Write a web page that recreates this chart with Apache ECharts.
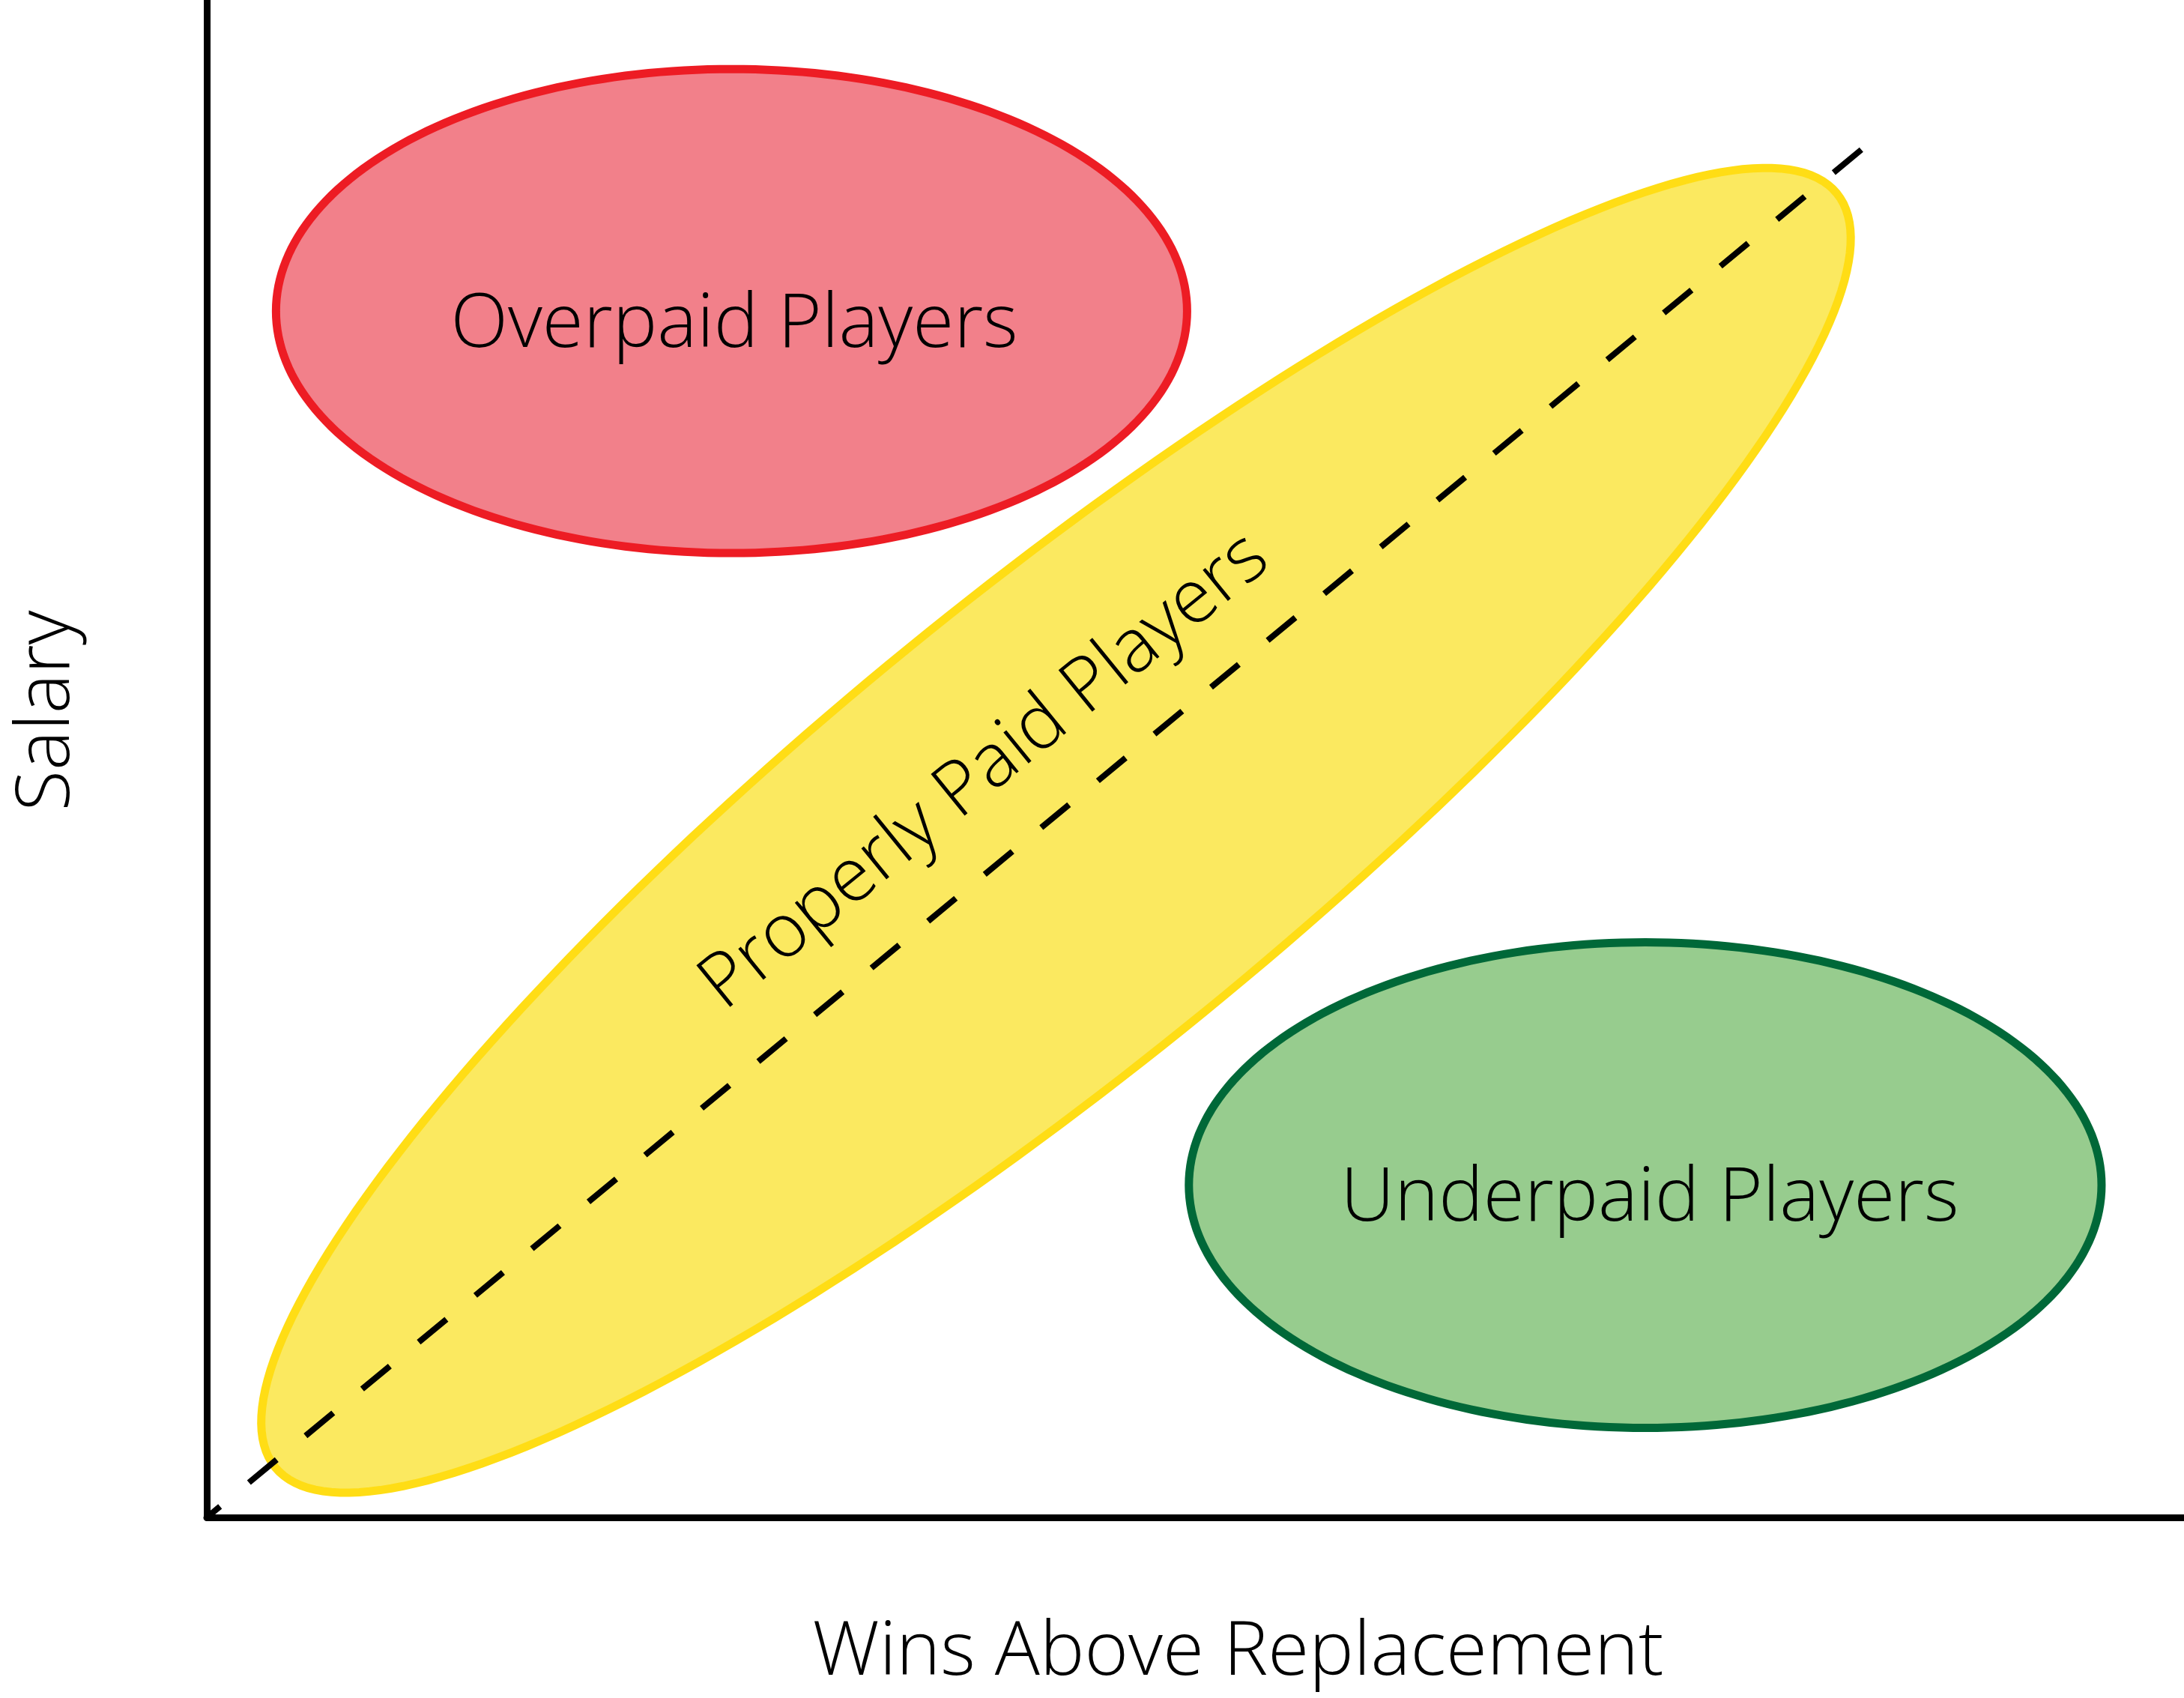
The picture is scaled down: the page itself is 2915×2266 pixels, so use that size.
<!DOCTYPE html>
<html>
<head>
<meta charset="utf-8">
<script src="https://cdn.jsdelivr.net/npm/echarts@6/dist/echarts.min.js"></script>
<style>
html,body{margin:0;padding:0;background:#fff;}
#chart{width:2915px;height:2266px;}
</style>
</head>
<body>
<div id="chart"></div>
<script>
// ---- data (conceptual chart, axis units 0..100) ----
const zones   = ['Overpaid Players', 'Properly Paid Players', 'Underpaid Players'];
// ellipse centres
const centerX = [26.54, 42.95, 72.75];
const centerY = [79.50, 45.28, 21.90];
// first semi-axis vector
const axisUX  = [23.04, 39.49, 23.08];
const axisUY  = [0.00, 41.98, 0.00];
// second semi-axis vector
const axisVX  = [0.00, 7.50, 0.00];
const axisVY  = [15.95, -11.97, 16.00];
// label anchor points
const labelX  = [26.68, 39.35, 72.98];
const labelY  = [78.55, 49.15, 20.98];
// break-even diagonal
const diagX   = [0, 83.9];
const diagY   = [0, 90.37];
const xTitle  = 'Wins Above Replacement';
const yTitle  = 'Salary';

// ---- styles ----
const zoneStyle = [
  {fill: '#F2808A', stroke: '#ED1C24', rot: 0},
  {fill: '#FBE960', stroke: '#FFDD15', rot: 0.684},
  {fill: '#97CC8E', stroke: '#006838', rot: 0}
];
const FONT = "'Open Sans', 'Noto Sans', sans-serif";
const FS = 100;

const zoneData = zones.map((n, i) => [centerX[i], centerY[i], axisUX[i], axisUY[i], axisVX[i], axisVY[i], labelX[i], labelY[i]]);
const diagData = diagX.map((x, i) => [x, diagY[i]]);

const chart = echarts.init(document.getElementById('chart'), null, {renderer: 'canvas'});
chart.setOption({
  backgroundColor: '#fff',
  animation: false,
  grid: {left: 276, right: 0, top: 0, bottom: 241, containLabel: false},
  xAxis: {
    type: 'value', min: 0, max: 100,
    axisLine: {show: true, lineStyle: {color: '#000', width: 9}},
    axisTick: {show: false}, axisLabel: {show: false}, splitLine: {show: false},
    name: xTitle, nameLocation: 'middle', nameGap: 132,
    nameTextStyle: {fontFamily: FONT, fontWeight: 300, fontSize: FS, color: '#000', padding: [0, 0, 0, 114]}
  },
  yAxis: {
    type: 'value', min: 0, max: 100,
    axisLine: {show: true, lineStyle: {color: '#000', width: 9}},
    axisTick: {show: false}, axisLabel: {show: false}, splitLine: {show: false},
    name: yTitle, nameLocation: 'middle', nameGap: 162,
    nameTextStyle: {fontFamily: FONT, fontWeight: 300, fontSize: FS, color: '#000', padding: [0, 0, 0, 128]}
  },
  series: [
    {
      type: 'custom',
      data: zoneData,
      z: 2,
      renderItem: function (params, api) {
        const i = params.dataIndex;
        const cx = api.value(0), cy = api.value(1);
        const ux = api.value(2), uy = api.value(3), vx = api.value(4), vy = api.value(5);
        const pts = [];
        const N = 240;
        for (let k = 0; k < N; k++) {
          const t = 2 * Math.PI * k / N;
          pts.push(api.coord([cx + Math.cos(t) * ux + Math.sin(t) * vx, cy + Math.cos(t) * uy + Math.sin(t) * vy]));
        }
        const lp = api.coord([api.value(6), api.value(7)]);
        const st = zoneStyle[i];
        return {
          type: 'group',
          children: [
            {type: 'polygon', shape: {points: pts}, style: {fill: st.fill, stroke: st.stroke, lineWidth: 11}},
            {type: 'text', x: lp[0], y: lp[1], rotation: st.rot, z2: 10,
             style: {text: zones[i], fontFamily: FONT, fontWeight: 300, fontSize: FS, fill: '#000', align: 'center', verticalAlign: 'middle'}}
          ]
        };
      }
    },
    {
      type: 'line',
      data: diagData,
      z: 3,
      symbol: 'none',
      silent: true,
      clip: false,
      lineStyle: {color: '#000', width: 8, type: [48, 50], dashOffset: 25, cap: 'butt'}
    }
  ]
});
</script>
</body>
</html>
